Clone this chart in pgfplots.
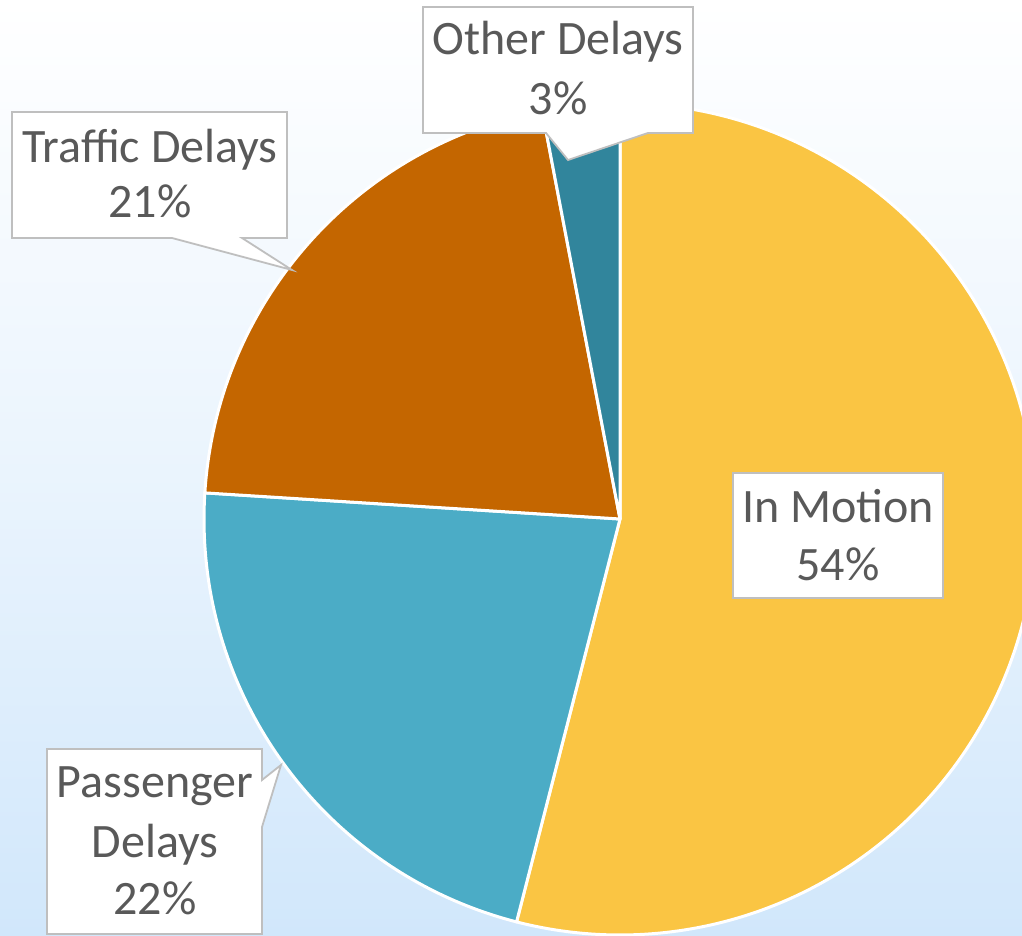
\documentclass[border=0pt]{standalone}
\usepackage{pgfplots}
\pgfplotsset{compat=1.18}
\usepackage{fontspec}
\setmainfont{Carlito}
\definecolor{cMotion}{HTML}{FAC543}
\definecolor{cPass}{HTML}{4BACC6}
\definecolor{cTraffic}{HTML}{C46600}
\definecolor{cOther}{HTML}{31859C}
\definecolor{bgblue}{HTML}{D1E7FB}
\definecolor{txt}{HTML}{595959}
\definecolor{boxline}{HTML}{BFBFBF}
% data (percent)
\def\vMotion{54}\def\vPass{22}\def\vTraffic{21}\def\vOther{3}
\pgfmathsetmacro\aA{90}
\pgfmathsetmacro\aB{\aA-3.6*\vMotion}
\pgfmathsetmacro\aC{\aB-3.6*\vPass}
\pgfmathsetmacro\aD{\aC-3.6*\vTraffic}
\pgfmathsetmacro\aE{\aD-3.6*\vOther}
\def\R{208pt}
\begin{document}
\begin{tikzpicture}[lbl/.style={anchor=base,text=txt,font=\fontsize{24}{28}\selectfont,inner sep=0pt}]
\begin{axis}[
  scale only axis, width=511pt, height=468pt,
  xmin=0, xmax=1022, ymin=-936, ymax=0,
  hide axis, clip=true]
\fill[top color=white, bottom color=bgblue, middle color=white!55!bgblue, shading angle=0] (axis cs:0,0) rectangle (axis cs:1022,-936);
\filldraw[fill=cMotion, draw=white, line width=1.5pt, line join=round] (axis cs:620,-519) -- ++(\aA:\R) arc[start angle=\aA, end angle=\aB, radius=\R] -- cycle;
\filldraw[fill=cPass, draw=white, line width=1.5pt, line join=round] (axis cs:620,-519) -- ++(\aB:\R) arc[start angle=\aB, end angle=\aC, radius=\R] -- cycle;
\filldraw[fill=cTraffic, draw=white, line width=1.5pt, line join=round] (axis cs:620,-519) -- ++(\aC:\R) arc[start angle=\aC, end angle=\aD, radius=\R] -- cycle;
\filldraw[fill=cOther, draw=white, line width=1.5pt, line join=round] (axis cs:620,-519) -- ++(\aD:\R) arc[start angle=\aD, end angle=\aE, radius=\R] -- cycle;
% callouts
\filldraw[fill=white, draw=boxline, line width=0.9pt] (axis cs:423,-7) -- (axis cs:693,-7) -- (axis cs:693,-133) -- (axis cs:648,-133) -- (axis cs:568,-160) -- (axis cs:546,-133) -- (axis cs:423,-133) -- cycle;
\filldraw[fill=white, draw=boxline, line width=0.9pt] (axis cs:12,-112) -- (axis cs:287,-112) -- (axis cs:287,-238) -- (axis cs:242,-238) -- (axis cs:292,-270) -- (axis cs:172,-238) -- (axis cs:12,-238) -- cycle;
\filldraw[fill=white, draw=boxline, line width=0.9pt] (axis cs:47,-749) -- (axis cs:262,-749) -- (axis cs:262,-780) -- (axis cs:281,-765) -- (axis cs:262,-827) -- (axis cs:262,-934) -- (axis cs:47,-934) -- cycle;
\filldraw[fill=white, draw=boxline, line width=0.9pt] (axis cs:733,-473) rectangle (axis cs:943,-598);
% labels
\node[lbl] at (axis cs:558,-55) {Other Delays};
\node[lbl] at (axis cs:558,-115) {3\%};
\node[lbl] at (axis cs:150,-163) {Traffic Delays};
\node[lbl] at (axis cs:150,-218) {21\%};
\node[lbl] at (axis cs:155,-798) {Passenger};
\node[lbl] at (axis cs:155,-858) {Delays};
\node[lbl] at (axis cs:155,-915) {22\%};
\node[lbl] at (axis cs:838,-523) {In Motion};
\node[lbl] at (axis cs:838,-581) {54\%};
\end{axis}
\end{tikzpicture}
\end{document}
